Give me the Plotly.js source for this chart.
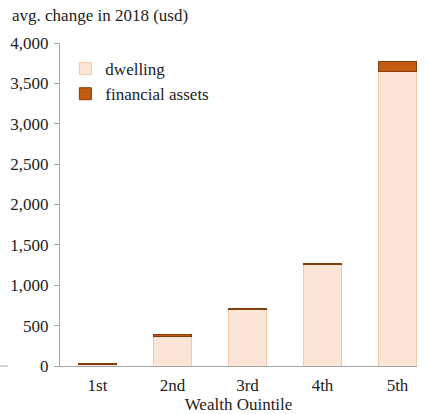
<!DOCTYPE html>
<html><head><meta charset="utf-8">
<script src="https://cdn.plot.ly/plotly-3.0.1.min.js"></script>
<style>html,body{margin:0;padding:0;background:#fff}#c{width:429px;height:414px}</style>
</head><body><div id="c"></div>
<script>
const quintiles = ['1st','2nd','3rd','4th','5th'];
const dwelling = [15, 365, 698, 1255, 3650];
const financialAssets = [20, 20, 20, 17, 125];
const yTicks = [0,500,1000,1500,2000,2500,3000,3500,4000];

const font = {family:'"Liberation Serif", "Times New Roman", Times, serif', size:17, color:'#222'};
const data = [
  {type:'bar', name:'dwelling', x:quintiles, y:dwelling,
   marker:{color:'#FBE5D6', line:{color:'#F4C7A6', width:1}}},
  {type:'bar', name:'financial assets', x:quintiles, y:financialAssets,
   marker:{color:'#C55A11', line:{color:'#843C0C', width:1}}}
];
const layout = {
  width:429, height:414,
  margin:{l:60, r:12, t:43, b:48},
  barmode:'stack', bargap:0.5,
  paper_bgcolor:'#fff', plot_bgcolor:'#fff',
  font:font,
  showlegend:true,
  legend:{x:0.015, y:0.975, xanchor:'left', yanchor:'top', traceorder:'normal',
          bgcolor:'rgba(0,0,0,0)', font:font, itemwidth:30, tracegroupgap:0},
  xaxis:{type:'category', range:[-0.5, 4.26], showline:true, linecolor:'#A6A6A6', linewidth:1,
         ticks:'', showgrid:false, zeroline:false, tickfont:font, ticklabelstandoff:4,
         title:{text:'Wealth Ouintile', font:font, standoff:6}},
  yaxis:{range:[0,4000], tickvals:yTicks, ticktext:yTicks.map(v=>v.toLocaleString('en-US')),
         showline:true, linecolor:'#A6A6A6', linewidth:1, ticks:'outside', ticklen:5,
         tickcolor:'#A6A6A6', showgrid:false, zeroline:false, tickfont:font, ticklabelstandoff:2},
  shapes:[{type:'line', xref:'paper', yref:'paper', x0:-0.168, x1:-0.146, y0:0, y1:0,
           line:{color:'#A6A6A6', width:1}}],
  annotations:[{text:'avg. change in 2018 (usd)', xref:'paper', yref:'paper',
    x:-0.14, y:1.085, xanchor:'left', yanchor:'middle', showarrow:false,
    font:{family:font.family, size:17, color:'#222'}}]
};
Plotly.newPlot('c', data, layout, {displayModeBar:false, staticPlot:true});
</script></body></html>
